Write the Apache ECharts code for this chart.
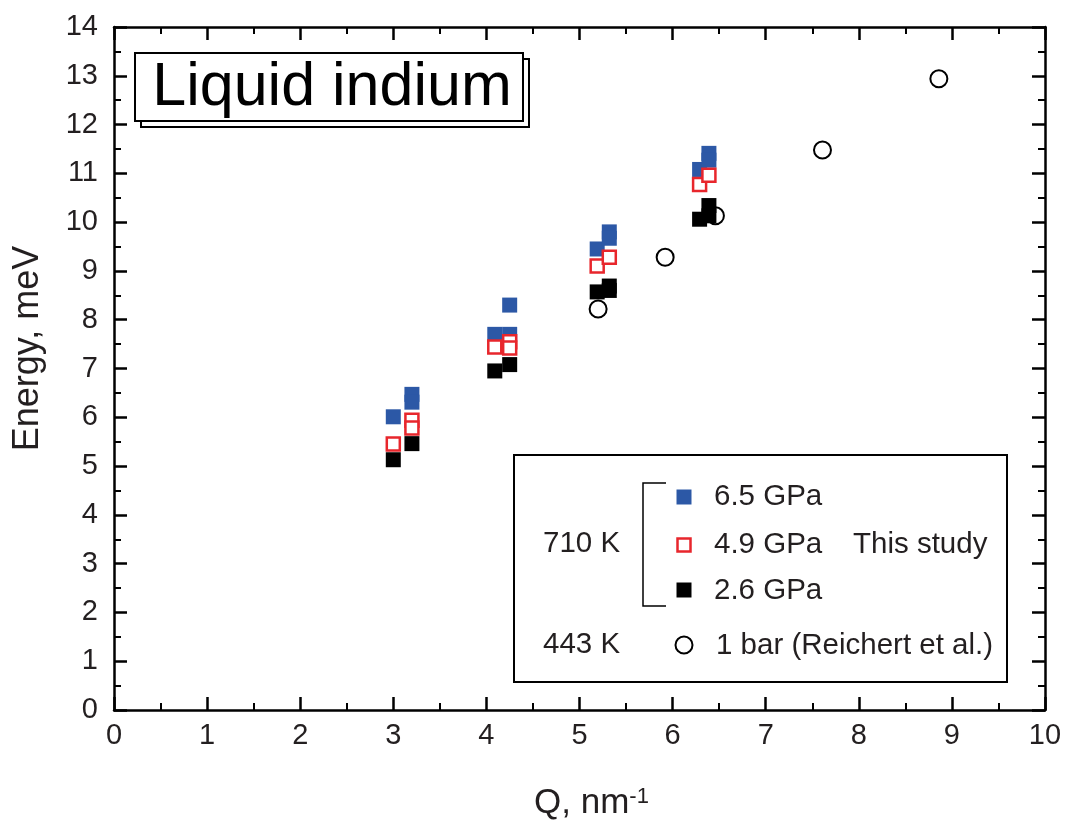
<!DOCTYPE html>
<html>
<head>
<meta charset="utf-8">
<title>Liquid indium</title>
<script src="https://cdn.jsdelivr.net/npm/echarts@6/dist/echarts.min.js"></script>
<style>
  html, body { margin: 0; padding: 0; background: #fff; }
  #chart { width: 1065px; height: 822px; }
</style>
</head>
<body>
<div id="chart"></div>
<script>
// Dispersion of the longitudinal excitation energy vs. momentum transfer Q
// [Q (nm^-1), Energy (meV)]
const p65 = [[3.0, 6.01], [3.2, 6.47], [3.2, 6.31], [4.09, 7.70], [4.25, 7.70], [4.25, 8.30],
             [5.19, 9.45], [5.32, 9.80], [5.32, 9.67], [6.29, 11.08], [6.39, 11.41], [6.39, 11.27]];
const p49 = [[3.0, 5.45], [3.2, 5.94], [3.2, 5.78], [4.09, 7.44], [4.25, 7.55], [4.25, 7.42],
             [5.19, 9.10], [5.32, 9.28], [6.29, 10.77], [6.39, 10.96]];
const p26 = [[3.0, 5.13], [3.2, 5.46], [4.09, 6.95], [4.25, 7.08], [5.19, 8.57], [5.32, 8.69],
             [5.32, 8.60], [6.29, 10.06], [6.39, 10.34], [6.39, 10.13]];
const p1bar = [[5.2, 8.22], [5.92, 9.28], [6.46, 10.13], [7.61, 11.48], [8.86, 12.94]];

const seriesNames = ['6.5 GPa', '4.9 GPa', '2.6 GPa', '1 bar (Reichert et al.)'];
const tempLabels = ['710 K', '443 K'];
const groupLabel = 'This study';
const titleText = 'Liquid indium';

const xRange = [0, 10];
const yRange = [0, 14];

const FONT = '"Liberation Sans", Arial, Helvetica, sans-serif';
const INK = '#231f20';
const BLUE = '#2c58a6';
const RED = '#e8262c';
const LEGEND_FONT = '29.5px ' + FONT;

const chart = echarts.init(document.getElementById('chart'));

function axisCommon(extra) {
  return Object.assign({
    type: 'value',
    interval: 1,
    axisLine: { show: true, onZero: false, lineStyle: { color: '#000', width: 2.5 } },
    axisTick: { show: true, inside: true, length: 13, lineStyle: { color: '#000', width: 2.5 } },
    minorTick: { show: true, splitNumber: 2, length: 7, lineStyle: { color: '#000', width: 2 } },
    splitLine: { show: false },
    minorSplitLine: { show: false }
  }, extra);
}

const grid = { left: 114, right: 20, top: 27, bottom: 112, outerBoundsMode: 'none', containLabel: false };

const option = {
  animation: false,
  backgroundColor: '#fff',
  textStyle: { fontFamily: FONT },
  grid: grid,
  xAxis: [
    axisCommon({
      position: 'bottom', min: xRange[0], max: xRange[1],
      axisLabel: { show: true, color: INK, fontSize: 29, fontFamily: FONT, margin: 11 },
      name: '{a|Q, nm}{b|-1}',
      nameLocation: 'middle',
      nameGap: 76,
      nameTextStyle: {
        padding: [0, 0, 0, 24],
        rich: {
          a: { fontSize: 35, color: INK, fontFamily: FONT, verticalAlign: 'bottom' },
          b: { fontSize: 22, color: INK, fontFamily: FONT, verticalAlign: 'top' }
        }
      }
    }),
    axisCommon({
      position: 'top', min: xRange[0], max: xRange[1],
      axisLabel: { show: false }
    })
  ],
  yAxis: [
    axisCommon({
      position: 'left', min: yRange[0], max: yRange[1],
      axisLabel: { show: true, color: INK, fontSize: 29, fontFamily: FONT, margin: 16 },
      name: 'Energy, meV',
      nameLocation: 'middle',
      nameGap: 68,
      nameTextStyle: { fontSize: 36, color: INK, fontFamily: FONT, padding: [0, 0, 0, 40] }
    }),
    axisCommon({
      position: 'right', min: yRange[0], max: yRange[1],
      axisLabel: { show: false }
    })
  ],
  series: [
    {
      name: seriesNames[3], type: 'scatter', data: p1bar, z: 2,
      symbol: 'circle', symbolSize: 17,
      itemStyle: { color: '#fff', borderColor: '#000', borderWidth: 2, opacity: 1 }
    },
    {
      name: seriesNames[0], type: 'scatter', data: p65, z: 3,
      symbol: 'rect', symbolSize: 15,
      itemStyle: { color: BLUE, opacity: 1 }
    },
    {
      name: seriesNames[1], type: 'scatter', data: p49, z: 4,
      symbol: 'rect', symbolSize: 13,
      itemStyle: { color: '#fff', borderColor: RED, borderWidth: 2.5, opacity: 1 }
    },
    {
      name: seriesNames[2], type: 'scatter', data: p26, z: 5,
      symbol: 'rect', symbolSize: 15,
      itemStyle: { color: '#000', opacity: 1 }
    }
  ],
  graphic: [
    // title box with offset shadow frame
    { type: 'rect', z: 100, shape: { x: 141, y: 59, width: 388, height: 68 },
      style: { fill: '#fff', stroke: '#000', lineWidth: 2 } },
    { type: 'rect', z: 101, shape: { x: 135, y: 53, width: 388, height: 68 },
      style: { fill: '#fff', stroke: '#000', lineWidth: 2 } },
    { type: 'text', z: 102, style: { x: 332, y: 88, text: titleText, fill: '#000',
      font: '61px ' + FONT, textAlign: 'center', textVerticalAlign: 'middle', verticalAlign: 'middle' } },

    // legend frame
    { type: 'rect', z: 100, shape: { x: 514, y: 455, width: 493, height: 227 },
      style: { fill: '#fff', stroke: '#000', lineWidth: 2 } },
    // bracket grouping the high-pressure runs
    { type: 'polyline', z: 101, shape: { points: [[666, 483], [643, 483], [643, 606], [666, 606]] },
      style: { stroke: '#000', lineWidth: 1.5, fill: null } },
    // legend markers
    { type: 'rect', z: 101, shape: { x: 676.5, y: 489.5, width: 15, height: 15 }, style: { fill: BLUE } },
    { type: 'rect', z: 101, shape: { x: 677.5, y: 538.5, width: 13, height: 13 },
      style: { fill: '#fff', stroke: RED, lineWidth: 2.5 } },
    { type: 'rect', z: 101, shape: { x: 676.5, y: 582.5, width: 15, height: 15 }, style: { fill: '#000' } },
    { type: 'circle', z: 101, shape: { cx: 684, cy: 645, r: 8.5 },
      style: { fill: '#fff', stroke: '#000', lineWidth: 2 } },
    // legend text
    { type: 'text', z: 102, style: { x: 543, y: 544, text: tempLabels[0], fill: INK, font: LEGEND_FONT, verticalAlign: 'middle', textVerticalAlign: 'middle' } },
    { type: 'text', z: 102, style: { x: 714, y: 497, text: seriesNames[0], fill: INK, font: LEGEND_FONT, verticalAlign: 'middle', textVerticalAlign: 'middle' } },
    { type: 'text', z: 102, style: { x: 714, y: 545, text: seriesNames[1], fill: INK, font: LEGEND_FONT, verticalAlign: 'middle', textVerticalAlign: 'middle' } },
    { type: 'text', z: 102, style: { x: 853, y: 545, text: groupLabel, fill: INK, font: LEGEND_FONT, verticalAlign: 'middle', textVerticalAlign: 'middle' } },
    { type: 'text', z: 102, style: { x: 714, y: 591, text: seriesNames[2], fill: INK, font: LEGEND_FONT, verticalAlign: 'middle', textVerticalAlign: 'middle' } },
    { type: 'text', z: 102, style: { x: 543, y: 645, text: tempLabels[1], fill: INK, font: LEGEND_FONT, verticalAlign: 'middle', textVerticalAlign: 'middle' } },
    { type: 'text', z: 102, style: { x: 716, y: 646, text: seriesNames[3], fill: INK, font: LEGEND_FONT, verticalAlign: 'middle', textVerticalAlign: 'middle' } }
  ]
};

chart.setOption(option);
</script>
</body>
</html>
